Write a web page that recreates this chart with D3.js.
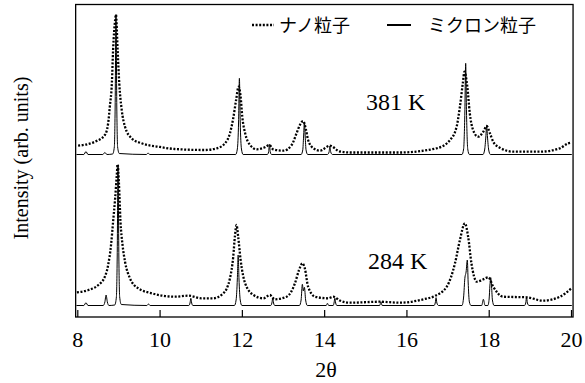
<!DOCTYPE html>
<html>
<head>
<meta charset="utf-8">
<script src="https://cdn.jsdelivr.net/npm/d3@7"></script>
<style>
  body { margin: 0; background: #fff; }
  svg { display: block; }
  text { font-family: 'Liberation Serif', 'DejaVu Serif', serif; }
  text.jp { font-family: 'Noto Sans CJK JP', sans-serif; }
</style>
</head>
<body>
<div id="chart"></div>
<script>
// 2theta vs intensity (arb. units)
const xTicks = [8, 10, 12, 14, 16, 18, 20];
const temps = ['381 K', '284 K'];
const offsets = [150, 0];

const nano381 = [
  [8.02, 21.3], [8.43, 25.3], [8.67, 32], [8.75, 43.7], [8.79, 60.3], [8.84, 83.7], [8.87, 117],
  [8.92, 147], [8.94, 152.3], [8.98, 117], [9.02, 83.7], [9.08, 57], [9.16, 40.3], [9.32, 28.7],
  [9.56, 23.7], [9.97, 20.3], [10.37, 18], [11.10, 17], [11.39, 18.7], [11.59, 23.7], [11.71, 33.7],
  [11.79, 48.7], [11.86, 67], [11.92, 80.3], [11.97, 70.3], [12.01, 50.3], [12.08, 33.7], [12.20, 22],
  [12.36, 17.7], [12.56, 19.7], [12.67, 22], [12.76, 17.7], [13.01, 16.3], [13.21, 22], [13.33, 33.7],
  [13.41, 42], [13.49, 46], [13.56, 37], [13.61, 27], [13.74, 18.7], [13.90, 16.3], [14.14, 21.3],
  [14.38, 15.5], [14.63, 14.5], [15.84, 14.5], [16.73, 18.7], [17.06, 27], [17.22, 40.3], [17.30, 60.3],
  [17.37, 83.7], [17.41, 95.3], [17.48, 80.3], [17.54, 53.7], [17.62, 37], [17.74, 30.3], [17.87, 35.3],
  [17.95, 41], [18.03, 33.7], [18.11, 25.3], [18.27, 19.3], [18.60, 15.3], [19.24, 15.3], [19.73, 18.7],
  [19.93, 23.7], [20.0, 24.3]
];

const micron381 = [
  [7.98, 12.5], [8.16, 12.5], [8.21, 15.5], [8.26, 12.5], [8.62, 12.5], [8.67, 14.5], [8.72, 12.5],
  [8.86, 13], [8.90, 20], [8.92, 60], [8.94, 152.5], [8.96, 60], [8.98, 20], [9.02, 13.5],
  [9.68, 12.5], [9.72, 14], [9.76, 12.5],
  [11.85, 12.5], [11.89, 18], [11.92, 45], [11.94, 88.7], [11.96, 45], [11.99, 18], [12.03, 12.5],
  [12.62, 12.5], [12.65, 15], [12.67, 22.7], [12.69, 15], [12.72, 12.5],
  [13.44, 12.5], [13.48, 17], [13.50, 30], [13.52, 45], [13.54, 30], [13.56, 17], [13.60, 12.5],
  [14.08, 12.5], [14.12, 15], [14.14, 21], [14.16, 15], [14.20, 12.5],
  [17.35, 12.5], [17.39, 18], [17.42, 55], [17.44, 103.7], [17.46, 55], [17.49, 18], [17.53, 12.5],
  [17.86, 12.5], [17.90, 17], [17.93, 30], [17.95, 41.3], [17.97, 30], [18.00, 17], [18.04, 12.5],
  [20.02, 12.5]
];

const nano284 = [
  [7.99, 24.7], [8.27, 27], [8.51, 32], [8.67, 40.3], [8.75, 52], [8.82, 72], [8.87, 95.3],
  [8.92, 118.7], [8.96, 142], [8.98, 152.7], [9.01, 135.3], [9.05, 95.3], [9.10, 72], [9.16, 55.3],
  [9.28, 38.7], [9.48, 28.7], [9.81, 23.7], [10.37, 20.3], [10.70, 21.3], [11.02, 18.7], [11.30, 18.7],
  [11.55, 23.7], [11.71, 38.7], [11.79, 60.3], [11.83, 80.3], [11.87, 92], [11.91, 80.3], [11.97, 57],
  [12.08, 33.7], [12.28, 22], [12.52, 18.7], [12.68, 22], [12.80, 17.7], [13.09, 20.3], [13.29, 33.7],
  [13.39, 47], [13.47, 53.7], [13.53, 48.7], [13.61, 30.3], [13.78, 20.3], [14.10, 18.7], [14.22, 20.3],
  [14.38, 16.5], [14.63, 14.3], [15.36, 15.3], [15.84, 14.3], [16.41, 17.7], [16.69, 21], [16.98, 30.3],
  [17.18, 53.7], [17.30, 77], [17.42, 93.7], [17.50, 80.3], [17.58, 53.7], [17.71, 35.3], [17.87, 37.7],
  [17.99, 39.7], [18.11, 30.3], [18.35, 20.3], [18.92, 19.7], [19.32, 16.3], [19.73, 20.3], [20.01, 28.7]
];

const micron284 = [
  [7.98, 11.5], [8.16, 11.5], [8.21, 14.3], [8.26, 11.5],
  [8.63, 11.5], [8.67, 15], [8.70, 22], [8.73, 15], [8.77, 11.5],
  [8.91, 12], [8.95, 20], [8.97, 60], [8.99, 152], [9.01, 60], [9.03, 20], [9.07, 12.5],
  [9.69, 11.5], [9.73, 13], [9.77, 11.5],
  [10.71, 11.5], [10.74, 14], [10.76, 18.7], [10.78, 14], [10.81, 11.5],
  [11.82, 11.5], [11.86, 17], [11.89, 38], [11.91, 62], [11.93, 38], [11.96, 17], [12.00, 11.5],
  [12.70, 11.5], [12.73, 14], [12.75, 18.7], [12.77, 14], [12.80, 11.5],
  [13.40, 11.5], [13.44, 17], [13.47, 32.7], [13.495, 26], [13.52, 29.7], [13.55, 17], [13.59, 11.5],
  [14.05, 11.5], [14.08, 13.7], [14.11, 11.5], [14.22, 11.5], [14.24, 14], [14.26, 18.7], [14.28, 14], [14.31, 11.5],
  [15.35, 11.5], [15.38, 15.3], [15.41, 11.5],
  [16.67, 11.5], [16.70, 14], [16.72, 19.3], [16.74, 14], [16.78, 11.5],
  [17.35, 11.5], [17.39, 20], [17.42, 38.7], [17.45, 45], [17.48, 57], [17.50, 35], [17.53, 15], [17.57, 11.5],
  [17.83, 11.5], [17.87, 17.7], [17.91, 11.5],
  [17.98, 11.5], [18.01, 18], [18.03, 32], [18.05, 39.3], [18.07, 30], [18.09, 17], [18.13, 11.5],
  [18.87, 11.5], [18.90, 14], [18.92, 19.7], [18.94, 14], [18.98, 11.5],
  [20.02, 11.5]
];

const legendLabels = ['ナノ粒子', 'ミクロン粒子'];

const width = 585;
const height = 383;

const svg = d3.select('#chart')
  .append('svg')
  .attr('width', width)
  .attr('height', height);

const xScale = d3.scaleLinear().domain([8, 20]).range([77.3, 571]);
const yScale = d3.scaleLinear().domain([0, 313]).range([317, 4]);

// frame
svg.append('rect')
  .attr('x', xScale(7.96))
  .attr('y', yScale(312.5))
  .attr('width', xScale(20.05) - xScale(7.96))
  .attr('height', yScale(0) - yScale(312.5))
  .style('fill', 'none')
  .style('stroke', '#000')
  .style('stroke-width', 1.3);

const xAxis = svg.append('g')
  .attr('transform', 'translate(0,' + yScale(0) + ')')
  .call(d3.axisBottom(xScale).tickValues(xTicks).tickSize(-7).tickPadding(14).tickFormat(d3.format('d')));
xAxis.attr('font-family', null).attr('font-size', null);
xAxis.select('.domain').remove();
xAxis.selectAll('line').style('stroke', '#000').style('stroke-width', 1.2);
xAxis.selectAll('text')
  .style('font-size', '22px')
  .attr('fill', '#000');

const line = d3.line()
  .x(d => xScale(d[0]))
  .y(d => yScale(d[1] + d.off))
  .curve(d3.curveMonotoneX);

function draw(data, off, dotted) {
  const pts = data.map(d => { const p = [d[0], d[1]]; p.off = off; return p; });
  svg.append('path')
    .attr('d', line(pts))
    .style('fill', 'none')
    .style('stroke', '#000')
    .style('stroke-width', dotted ? 2.3 : 1)
    .style('stroke-dasharray', dotted ? '2,1.6' : null);
}

draw(micron381, offsets[0], false);
draw(nano381, offsets[0], true);
draw(micron284, offsets[1], false);
draw(nano284, offsets[1], true);

// temperature labels
svg.append('text')
  .attr('x', 366).attr('y', 110)
  .style('font-size', '24px')
  .text(temps[0]);
svg.append('text')
  .attr('x', 368).attr('y', 269)
  .style('font-size', '24px')
  .text(temps[1]);

// legend
svg.append('line')
  .attr('x1', 252).attr('x2', 274).attr('y1', 25).attr('y2', 25)
  .style('stroke', '#000').style('stroke-width', 2.3).style('stroke-dasharray', '2,1.6');
svg.append('text')
  .attr('class', 'jp')
  .attr('x', 279).attr('y', 32)
  .style('font-size', '18px')
  .text(legendLabels[0]);
svg.append('line')
  .attr('x1', 387).attr('x2', 411).attr('y1', 25).attr('y2', 25)
  .style('stroke', '#000').style('stroke-width', 2);
svg.append('text')
  .attr('class', 'jp')
  .attr('x', 428).attr('y', 32)
  .style('font-size', '18px')
  .text(legendLabels[1]);

// axis titles
svg.append('text')
  .attr('x', 326).attr('y', 377)
  .style('text-anchor', 'middle')
  .style('font-size', '22px')
  .text('2θ');
svg.append('text')
  .attr('transform', 'translate(28,158) rotate(-90)')
  .style('text-anchor', 'middle')
  .style('font-size', '20px')
  .text('Intensity (arb. units)');
</script>
</body>
</html>
